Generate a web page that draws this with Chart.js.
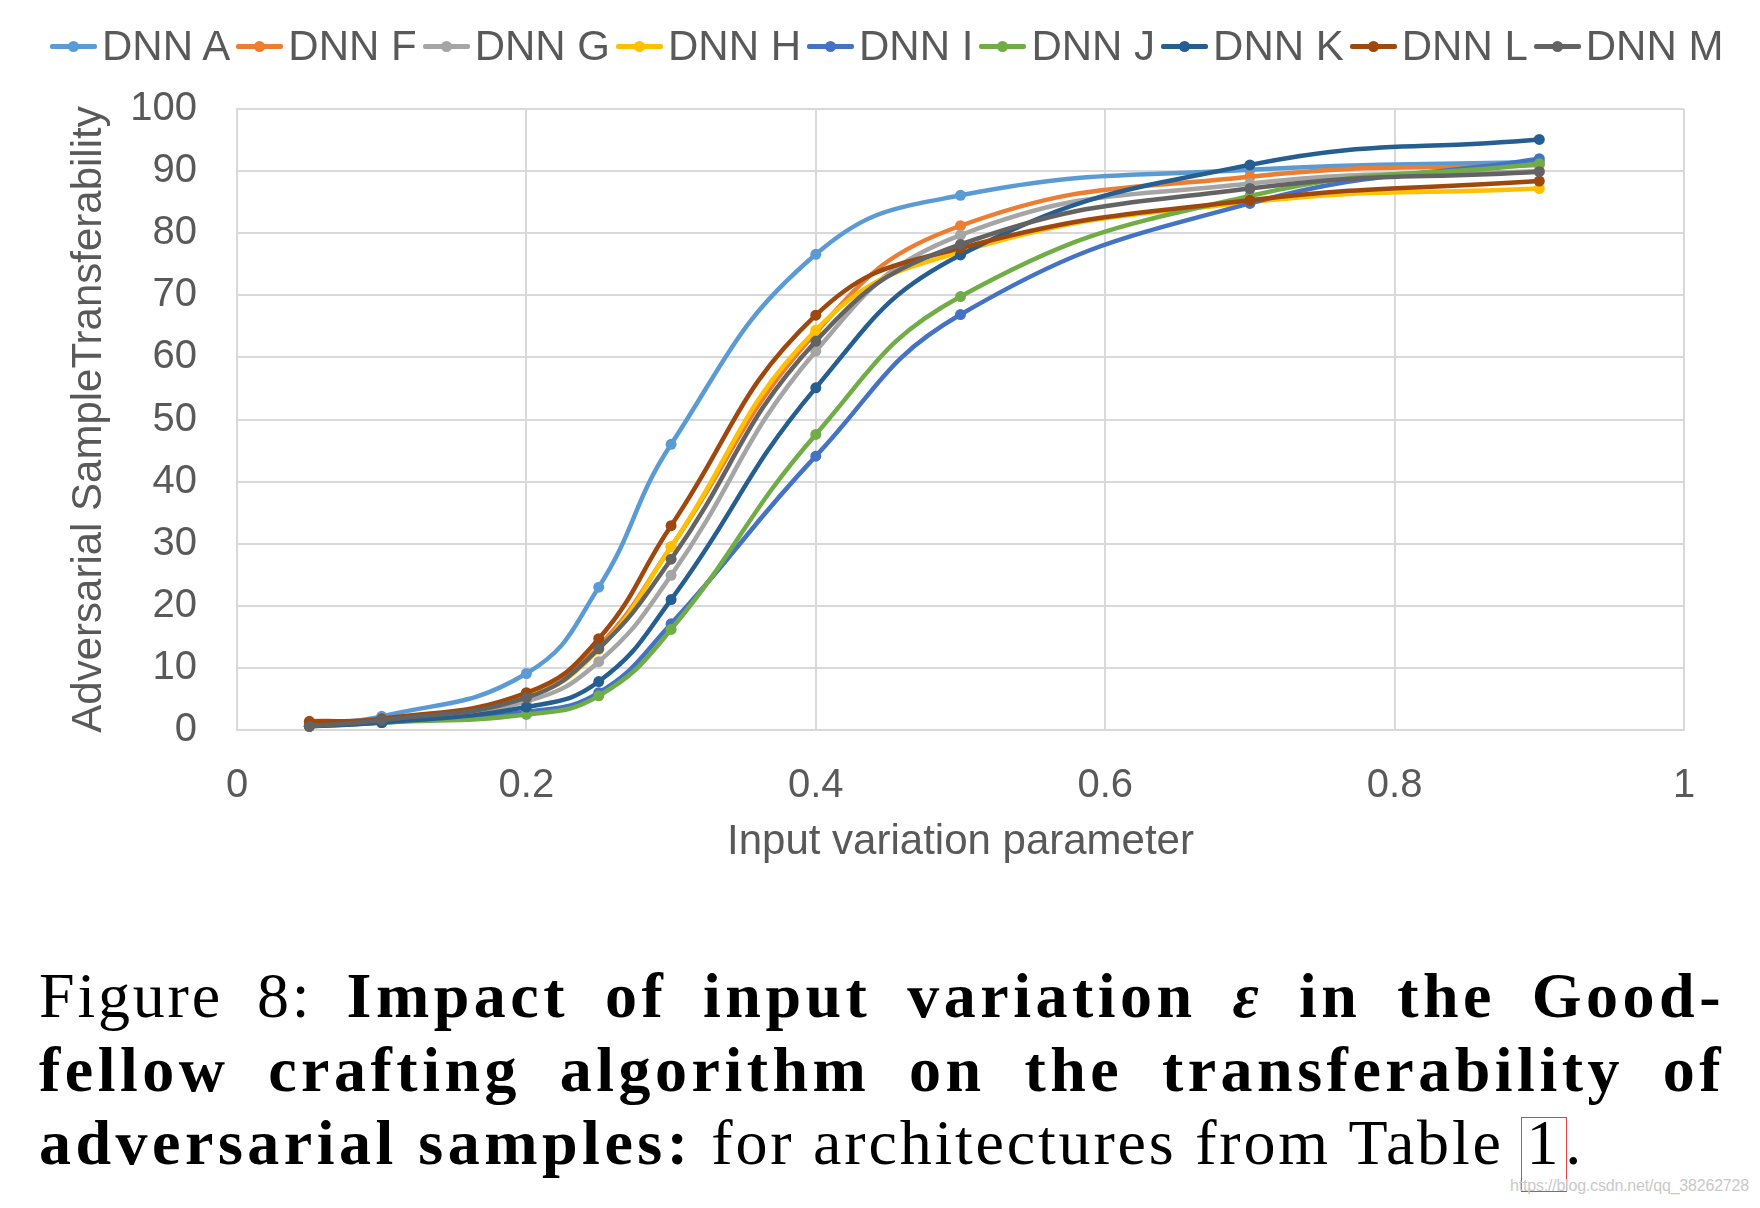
<!DOCTYPE html>
<html>
<head>
<meta charset="utf-8">
<script src="https://cdn.jsdelivr.net/npm/chart.js@4.4.0/dist/chart.umd.min.js"></script>
<style>
    html, body { margin: 0; padding: 0; background: #fff; }
    body { width: 1760px; height: 1208px; position: relative; overflow: hidden; font-family: 'Liberation Sans', Arial, sans-serif; }
    #chartBox { position: absolute; left: 0; top: 0; width: 1760px; height: 900px; }
    #legend { position: absolute; left: 50px; top: 21px; height: 50px; display: flex; align-items: center; white-space: nowrap; }
    .leg-item { display: flex; align-items: center; margin-right: 6px; }
    .leg-line { position: relative; width: 47px; height: 5px; border-radius: 2px; margin-right: 5px; }
    .leg-line::after { content: ''; position: absolute; left: 18px; top: -3px; width: 11px; height: 11px; border-radius: 50%; background: inherit; }
    .leg-text { font-size: 42px; color: #595959; line-height: 50px; }
    #caption { position: absolute; left: 39px; top: 959px; width: 1686px; font-family: 'Liberation Serif', serif; font-size: 64px; line-height: 73.5px; color: #000; }
    #caption div { text-align: justify; text-align-last: justify; letter-spacing: 2.8px; }
    #caption div.last { text-align: left; text-align-last: left; }
    #caption b { letter-spacing: 4.5px; }
    .ref { position: relative; padding: 0 4px; }
    .ref::after { content: ''; position: absolute; left: -2px; right: -2px; top: 10px; bottom: -14px; border: 1px solid #e8403c; }
    #mark { position: absolute; left: 1510px; top: 1177px; font-size: 16px; color: #c9c9c9; letter-spacing: -0.2px; }
</style>
</head>
<body>
<div id="chartBox"><canvas id="transferChart" width="1760" height="900"></canvas></div>
<div id="legend"></div>
<div id="caption">
    <div>Figure 8: <b>Impact of input variation <i>ε</i> in the Good-</b></div>
    <div><b>fellow crafting algorithm on the transferability of</b></div>
    <div class="last"><b>adversarial samples:</b> for architectures from Table <span class="ref">1</span>.</div>
</div>
<div id="mark">https://blog.csdn.net/qq_38262728</div>
<script>
const epsilon = [0.05, 0.1, 0.2, 0.25, 0.3, 0.4, 0.5, 0.7, 0.9];

const dnnA = [1.0, 2.2, 9.1, 23.0, 46.0, 76.6, 86.1, 90.2, 91.5];
const dnnF = [0.8, 1.4, 5.6, 13.5, 29.5, 64.0, 81.2, 89.1, 91.0];
const dnnG = [0.7, 1.3, 4.6, 11.0, 24.9, 61.0, 79.7, 88.0, 90.0];
const dnnH = [0.8, 1.4, 5.3, 13.0, 29.5, 64.4, 77.0, 85.0, 87.2];
const dnnI = [0.7, 1.2, 2.9, 6.0, 17.1, 44.1, 66.9, 84.8, 92.0];
const dnnJ = [0.6, 1.2, 2.5, 5.5, 16.2, 47.6, 69.8, 86.0, 91.2];
const dnnK = [0.6, 1.2, 3.7, 7.8, 21.0, 55.1, 76.5, 91.0, 95.1];
const dnnL = [1.4, 1.8, 6.0, 14.7, 32.9, 66.8, 77.6, 85.3, 88.4];
const dnnM = [0.6, 1.6, 5.2, 13.1, 27.5, 62.6, 78.2, 87.2, 89.9];

const seriesNames = ['DNN A', 'DNN F', 'DNN G', 'DNN H', 'DNN I', 'DNN J', 'DNN K', 'DNN L', 'DNN M'];
const seriesValues = [dnnA, dnnF, dnnG, dnnH, dnnI, dnnJ, dnnK, dnnL, dnnM];
const seriesColors = ['#5b9bd5', '#ed7d31', '#a5a5a5', '#ffc000', '#4472c4', '#70ad47', '#255e91', '#9e480e', '#636363'];

const xTicks = [0, 0.2, 0.4, 0.6, 0.8, 1];
const xTickLabels = ['0', '0.2', '0.4', '0.6', '0.8', '1'];
const yTicks = [0, 10, 20, 30, 40, 50, 60, 70, 80, 90, 100];
const yTickLabels = ['0', '10', '20', '30', '40', '50', '60', '70', '80', '90', '100'];

const xTitle = 'Input variation parameter';
const yTitle = 'Adversarial SampleTransferability';

// legend as html, tighter than chart.js one
const legendEl = document.getElementById('legend');
seriesNames.forEach((name, i) => {
    const item = document.createElement('div');
    item.className = 'leg-item';
    item.innerHTML = `<span class="leg-line" style="background:${seriesColors[i]}"></span><span class="leg-text">${name}</span>`;
    legendEl.appendChild(item);
});

const tickFont = { family: "'Liberation Sans', Arial, sans-serif", size: 40 };
const titleFont = { family: "'Liberation Sans', Arial, sans-serif", size: 42 };
const gridColor = '#d9d9d9';

const datasets = seriesNames.map((name, i) => ({
    label: name,
    data: epsilon.map((x, j) => ({ x: x, y: seriesValues[i][j] })),
    borderColor: seriesColors[i],
    backgroundColor: seriesColors[i],
    pointBackgroundColor: seriesColors[i],
    pointBorderWidth: 0,
    pointRadius: 5.5,
    borderWidth: 4.5,
    tension: 0.45,
    fill: false,
    clip: false,
    order: seriesNames.length - i
}));

new Chart(document.getElementById('transferChart'), {
    type: 'line',
    data: { datasets: datasets },
    options: {
        responsive: false,
        animation: false,
        devicePixelRatio: 1,
        layout: { padding: { top: 109, right: 76, left: 0, bottom: 0 } },
        plugins: { legend: { display: false }, tooltip: { enabled: false } },
        scales: {
            x: {
                type: 'linear',
                min: 0,
                max: 1,
                afterBuildTicks: scale => { scale.ticks = xTicks.map(v => ({ value: v })); },
                afterFit: scale => { scale.height = 170; },
                ticks: {
                    color: '#595959',
                    font: tickFont,
                    padding: 32,
                    maxRotation: 0,
                    autoSkip: false,
                    callback: (v, i) => xTickLabels[i]
                },
                grid: { color: gridColor, lineWidth: 2, drawTicks: false },
                border: { color: gridColor, width: 2 },
                title: {
                    display: true,
                    text: xTitle,
                    color: '#595959',
                    font: titleFont,
                    padding: { top: 0, bottom: 32 }
                }
            },
            y: {
                min: 0,
                max: 100,
                afterBuildTicks: scale => { scale.ticks = yTicks.map(v => ({ value: v })); },
                afterFit: scale => { scale.width = 237; },
                ticks: {
                    color: '#595959',
                    font: tickFont,
                    padding: 40,
                    autoSkip: false,
                    callback: (v, i) => yTickLabels[i]
                },
                grid: { color: gridColor, lineWidth: 2, drawTicks: false },
                border: { color: gridColor, width: 2 },
                title: {
                    display: true,
                    text: yTitle,
                    color: '#595959',
                    font: titleFont,
                    padding: { top: 64, bottom: 0 }
                }
            }
        }
    }
});
</script>
</body>
</html>
